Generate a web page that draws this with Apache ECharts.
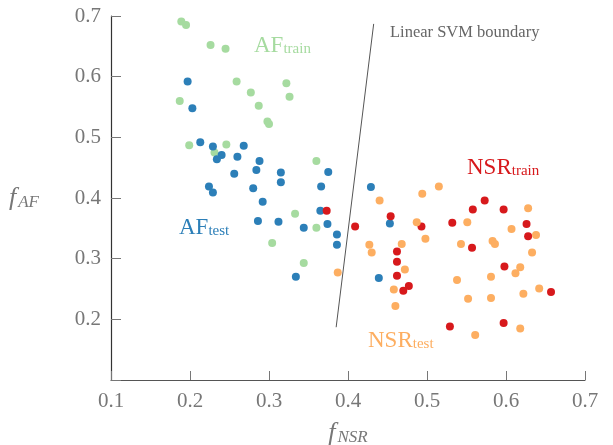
<!DOCTYPE html>
<html>
<head>
<meta charset="utf-8">
<script src="https://cdn.jsdelivr.net/npm/echarts@6/dist/echarts.min.js"></script>
<style>
  html, body { margin: 0; padding: 0; background: #fff; }
  #chart { width: 613px; height: 445px; }
</style>
</head>
<body>
<div id="chart"></div>
<script>
// tick labels
const xTicks = [0.1, 0.2, 0.3, 0.4, 0.5, 0.6, 0.7];
const yTicks = [0.2, 0.3, 0.4, 0.5, 0.6, 0.7];

// [f_NSR, f_AF]
const afTrain = [
  [0.189, 0.691], [0.195, 0.685], [0.226, 0.652], [0.245, 0.646], [0.259, 0.592],
  [0.322, 0.589], [0.277, 0.574], [0.326, 0.567], [0.187, 0.560], [0.287, 0.552],
  [0.298, 0.526], [0.300, 0.522], [0.199, 0.487], [0.246, 0.488], [0.231, 0.475],
  [0.360, 0.461], [0.333, 0.374], [0.360, 0.351], [0.304, 0.326], [0.344, 0.293]
];
const afTest = [
  [0.197, 0.592], [0.203, 0.548], [0.213, 0.492], [0.229, 0.485], [0.268, 0.486],
  [0.240, 0.471], [0.234, 0.464], [0.260, 0.468], [0.288, 0.461], [0.256, 0.440],
  [0.284, 0.446], [0.315, 0.442], [0.315, 0.426], [0.375, 0.443], [0.224, 0.419],
  [0.229, 0.409], [0.280, 0.416], [0.366, 0.419], [0.292, 0.394], [0.365, 0.379],
  [0.286, 0.362], [0.312, 0.361], [0.344, 0.351], [0.374, 0.357], [0.386, 0.340],
  [0.386, 0.323], [0.334, 0.270], [0.429, 0.418], [0.453, 0.358], [0.439, 0.268]
];
const nsrTrain = [
  [0.373, 0.379], [0.409, 0.353], [0.454, 0.370], [0.493, 0.353], [0.532, 0.359],
  [0.462, 0.312], [0.462, 0.295], [0.462, 0.272], [0.477, 0.255], [0.470, 0.247],
  [0.529, 0.188], [0.558, 0.381], [0.573, 0.396], [0.597, 0.381], [0.626, 0.357],
  [0.628, 0.337], [0.557, 0.318], [0.598, 0.287], [0.657, 0.245], [0.597, 0.194]
];
const nsrTest = [
  [0.387, 0.277], [0.440, 0.396], [0.494, 0.407], [0.515, 0.419], [0.487, 0.360],
  [0.551, 0.360], [0.498, 0.333], [0.427, 0.323], [0.430, 0.310], [0.468, 0.324],
  [0.472, 0.282], [0.458, 0.249], [0.460, 0.222], [0.543, 0.324], [0.538, 0.265],
  [0.552, 0.234], [0.628, 0.383], [0.607, 0.349], [0.638, 0.339], [0.583, 0.329],
  [0.586, 0.324], [0.633, 0.310], [0.618, 0.286], [0.612, 0.276], [0.581, 0.270],
  [0.581, 0.235], [0.622, 0.242], [0.642, 0.251], [0.618, 0.185], [0.561, 0.174]
];
const boundary = [[0.385, 0.187], [0.4325, 0.687]];

const SERIF = '"Liberation Serif", "DejaVu Serif", serif';
const colors = { afTrain: '#a6dba0', afTest: '#2c7fb8', nsrTrain: '#d7191c', nsrTest: '#fdae61' };

const chart = echarts.init(document.getElementById('chart'));

function scatter(name, data, color) {
  return {
    name: name,
    type: 'scatter',
    data: data,
    symbolSize: 8,
    itemStyle: { color: color, opacity: 1 },
    z: 3
  };
}

function subLabel(left, top, main, sub, color) {
  return {
    type: 'text',
    left: left,
    top: top,
    style: {
      text: '{m|' + main + '}{s|' + sub + '}',
      rich: {
        m: { fontFamily: SERIF, fontSize: 23, fill: color, color: color },
        s: { fontFamily: SERIF, fontSize: 15, fill: color, color: color, padding: [8, 0, 0, 0] }
      }
    }
  };
}

const nameRich = {
  i: { fontFamily: SERIF, fontStyle: 'italic', fontSize: 26, color: '#777' },
  s: { fontFamily: SERIF, fontStyle: 'italic', fontSize: 17, color: '#777', padding: [9, 0, 0, 2] }
};

chart.setOption({
  animation: false,
  grid: { left: 111, right: 28, top: 16, bottom: 65, outerBoundsMode: 'none', containLabel: false },
  xAxis: {
    type: 'value',
    min: 0.1, max: 0.7, interval: 0.1,
    name: '{i|f}{s|NSR}',
    nameLocation: 'middle',
    nameGap: 40,
    nameTextStyle: { rich: nameRich },
    splitLine: { show: false },
    axisLine: { lineStyle: { color: '#555', width: 1.2 } },
    axisTick: { show: true, inside: true, length: 9, lineStyle: { color: '#777' } },
    axisLabel: {
      margin: 11,
      fontFamily: SERIF, fontSize: 21, color: '#777',
      formatter: v => xTicks.find(t => Math.abs(t - v) < 1e-6)?.toFixed(1) ?? ''
    }
  },
  yAxis: {
    type: 'value',
    min: 0.1, max: 0.7, interval: 0.1,
    name: '{i|f}{s|AF}',
    nameLocation: 'middle',
    nameGap: 72,
    nameRotate: 0,
    nameTextStyle: { rich: nameRich },
    splitLine: { show: false },
    axisLine: { show: true, lineStyle: { color: '#333', width: 1.2 } },
    axisTick: { show: true, inside: true, length: 10, lineStyle: { color: '#777' } },
    axisLabel: {
      margin: 10,
      fontFamily: SERIF, fontSize: 21, color: '#777',
      formatter: v => yTicks.find(t => Math.abs(t - v) < 1e-6)?.toFixed(1) ?? ''
    }
  },
  series: [
    scatter('AF train', afTrain, colors.afTrain),
    scatter('AF test', afTest, colors.afTest),
    scatter('NSR train', nsrTrain, colors.nsrTrain),
    scatter('NSR test', nsrTest, colors.nsrTest),
    {
      name: 'Linear SVM boundary',
      type: 'line',
      data: boundary,
      symbol: 'none',
      lineStyle: { color: '#555', width: 1 },
      z: 2
    }
  ],
  graphic: [
    {
      type: 'text', left: 390, top: 24,
      style: { text: 'Linear SVM boundary', fontFamily: SERIF, fontSize: 16.5, fill: '#666' }
    },
    subLabel(254, 34, 'AF', 'train', colors.afTrain),
    subLabel(179, 216, 'AF', 'test', colors.afTest),
    subLabel(467, 156, 'NSR', 'train', colors.nsrTrain),
    subLabel(368, 329, 'NSR', 'test', colors.nsrTest)
  ]
});
</script>
</body>
</html>
